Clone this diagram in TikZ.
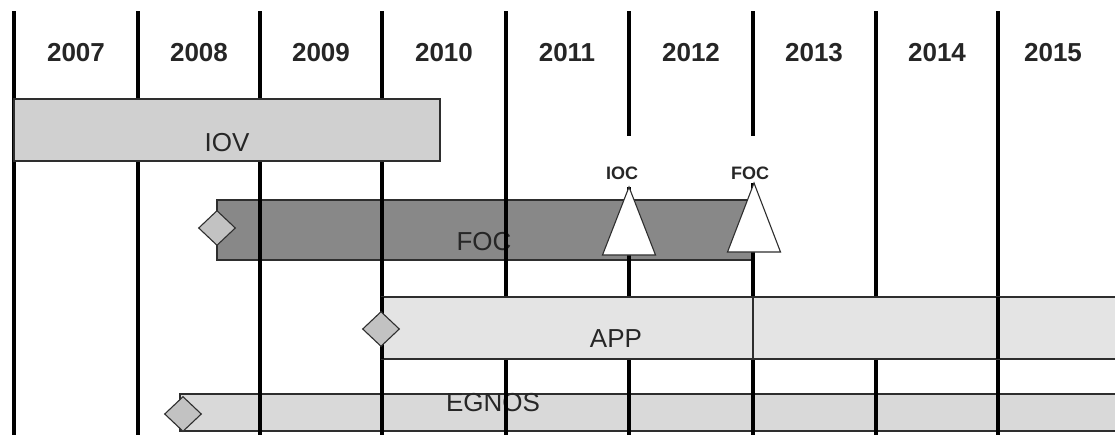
\documentclass[tikz,border=0pt]{standalone}
\usepackage{fontspec}
\setmainfont{Liberation Sans}
\usepackage{tikz}
\usetikzlibrary{shapes.geometric}
\definecolor{iovgrey}{HTML}{D0D0D0}
\definecolor{focgrey}{HTML}{888888}
\definecolor{appgrey}{HTML}{E4E4E4}
\definecolor{egngrey}{HTML}{D9D9D9}
\definecolor{msgrey}{HTML}{C2C2C2}
\definecolor{edgegrey}{HTML}{2E2E2E}
\tikzset{
  vline/.style  = {line width=3.6pt, black},
  bar/.style    = {draw=edgegrey, line width=1.3pt},
  yearlbl/.style= {font=\fontsize{26}{30}\selectfont\bfseries, text=black!85, inner sep=0pt},
  barlbl/.style = {font=\fontsize{26}{30}\selectfont, text=black!85, inner sep=0pt},
  mslbl/.style  = {font=\fontsize{18}{20}\selectfont\bfseries, text=black!85, inner sep=0pt},
  ms/.style     = {diamond, draw=edgegrey, fill=msgrey, line width=1.1pt,
                   minimum width=37pt, minimum height=35pt, inner sep=0pt},
  tri/.style    = {draw=edgegrey, fill=white, line width=1.1pt, line join=miter},
}
\begin{document}
\begin{tikzpicture}[x=1pt, y=-1pt]
\clip (0,0) rectangle (1115,434);
\fill[white] (0,0) rectangle (1115,434);

%% bars drawn under the year lines
\draw[bar, fill=focgrey] (217,200) rectangle (753,260);
\draw[bar, fill=egngrey] (180,394) rectangle (1130,431);
\node[barlbl] (foc) at (484,241.5) {FOC};
\node[barlbl] (egnos) at (493,402.5) {EGNOS};

%% year lines
\foreach \x in {14,138,260,382,506,876,998}
  \draw[vline] (\x,11) -- (\x,440);
\draw[vline] (629,11) -- (629,136);
\draw[vline] (629,187) -- (629,440);
\draw[vline] (753,11) -- (753,136);
\draw[vline] (753,183) -- (753,440);

%% years
\foreach \yr/\x in {2007/76,2008/199,2009/321,2010/444,2011/567,
                    2012/691,2013/814,2014/937,2015/1053}
  \node[yearlbl] (y\yr) at (\x,52.5) {\yr};

%% bars drawn over the year lines
\draw[bar, fill=iovgrey] (14,99) rectangle (440,161);
\draw[bar, fill=appgrey] (382,297) rectangle (753,359);
\draw[bar, fill=appgrey] (753,297) rectangle (1130,359);
\draw[vline] (382,297) -- (382,359);
\draw[vline] (998,297) -- (998,359);
\node[barlbl] (iov) at (227,142.5) {IOV};
\node[barlbl] (app) at (616,339) {APP};

%% milestones
\node[ms] (msfoc) at (217,228) {};
\node[ms] (msapp) at (381,329) {};
\node[ms] (msegn) at (183,414) {};

\coordinate (iocpt) at (629,187);
\coordinate (focpt) at (754,183);
\draw[tri] (iocpt) -- ++(-26.5,68) -- ++(53,0) -- cycle;
\draw[tri] (focpt) -- ++(-26.5,69) -- ++(53,0) -- cycle;
\node[mslbl] (ioclbl) at (622,173) {IOC};
\node[mslbl] (foclbl) at (750,173) {FOC};

\end{tikzpicture}
\end{document}
